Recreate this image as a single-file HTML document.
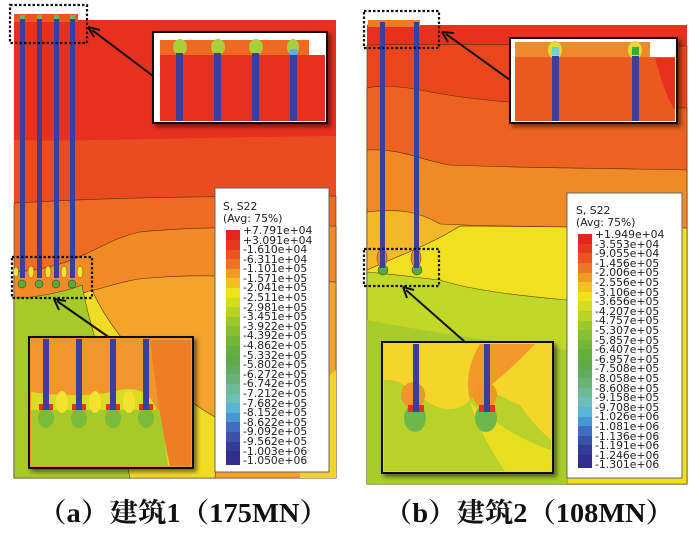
<!DOCTYPE html>
<html><head><meta charset="utf-8"><style>
html,body{margin:0;padding:0;background:#fff;}
svg{display:block;}
.lg{font-family:"DejaVu Sans","Liberation Sans",sans-serif;font-size:10.8px;fill:#222;}
.cap{font-family:"Liberation Serif","Noto Serif CJK SC",serif;font-size:27px;font-weight:bold;fill:#111;}
</style></head><body>
<svg width="700" height="534" viewBox="0 0 700 534" xmlns="http://www.w3.org/2000/svg">
<defs>
<filter id="sh" x="-5%" y="-5%" width="115%" height="115%"><feDropShadow dx="3" dy="3" stdDeviation="2" flood-color="#000" flood-opacity="0.5"/></filter>
</defs>

<!-- ============ PANEL A ============ -->
<rect x="14" y="20" width="322" height="458" fill="#e7301d"/>
<rect x="14" y="14" width="64" height="8" fill="#e9571f"/>
<path d="M14,140 C80,142 150,138 336,136 L336,478 L14,478Z" fill="#ea4c1f"/>
<path d="M14,203 C70,200 140,196 336,196 L336,478 L14,478Z" fill="#ee6b21" stroke="#5a2a10" stroke-width="0.6"/>
<path d="M14,272 C80,268 100,240 140,232 C200,226 260,228 336,226 L336,478 L14,478Z" fill="#f28a26" stroke="#5a2a10" stroke-width="0.6"/>
<path d="M14,300 C90,300 110,280 150,278 C220,272 280,280 336,282 L336,478 L14,478Z" fill="#f4a42a" stroke="#5a2a10" stroke-width="0.6"/>
<path d="M14,300 C60,300 80,295 92,290 C110,330 150,380 220,420 L215,478 L14,478Z" fill="#f0dc22" stroke="#5a2a10" stroke-width="0.6"/>
<path d="M14,298 C40,298 70,290 82,285 C90,330 110,380 130,478 L14,478Z" fill="#a8c92a" stroke="#4a4a10" stroke-width="0.6"/>
<path d="M336,370 L300,400 L300,478 L336,478Z" fill="#f3d324"/>
<!-- piles a -->
<g fill="#3a3e9e"><rect x="20" y="16" width="5" height="262"/><rect x="37" y="16" width="5" height="262"/><rect x="54" y="16" width="5" height="262"/><rect x="70" y="16" width="5" height="262"/></g>
<g fill="#f3e22c" stroke="#555" stroke-width="0.5"><ellipse cx="16" cy="272" rx="2.5" ry="5"/><ellipse cx="31" cy="272" rx="3" ry="6"/><ellipse cx="48" cy="272" rx="3" ry="6"/><ellipse cx="64" cy="272" rx="3" ry="6"/><ellipse cx="80" cy="272" rx="3" ry="6"/></g>
<g fill="#5aaa3a" stroke="#333" stroke-width="0.5"><ellipse cx="22" cy="284" rx="4" ry="4"/><ellipse cx="39" cy="284" rx="4" ry="4"/><ellipse cx="56" cy="284" rx="4" ry="4"/><ellipse cx="72" cy="284" rx="4" ry="4"/></g>
<g fill="#6fbf3a"><rect x="20" y="15" width="5" height="4"/><rect x="37" y="15" width="5" height="4"/><rect x="54" y="15" width="5" height="4"/><rect x="70" y="15" width="5" height="4"/></g>
<!-- dotted boxes a -->
<rect x="10" y="5" width="77" height="38" fill="none" stroke="#111" stroke-width="2.2" stroke-dasharray="2.5,2"/>
<rect x="12" y="257" width="80" height="41" fill="none" stroke="#111" stroke-width="2.2" stroke-dasharray="2.5,2"/>
<!-- arrows a -->
<line x1="153" y1="76" x2="92" y2="30" stroke="#111" stroke-width="2"/>
<path d="M88,27 L100,30 M88,27 L94,37" stroke="#111" stroke-width="2" fill="none"/>
<line x1="110" y1="338" x2="57" y2="301" stroke="#111" stroke-width="2"/>
<path d="M54,299 L66,301 M54,299 L59,310" stroke="#111" stroke-width="2" fill="none"/>
<!-- top inset a -->
<g filter="url(#sh)"><rect x="153" y="32" width="174" height="91" fill="#fff" stroke="#111" stroke-width="2"/></g>
<rect x="160" y="40" width="149" height="16" fill="#ee6a22"/>
<rect x="160" y="55" width="165" height="66" fill="#e7301d"/>
<g fill="#a8d03a"><ellipse cx="180" cy="47" rx="7" ry="8"/><ellipse cx="218" cy="47" rx="7" ry="8"/><ellipse cx="256" cy="47" rx="7" ry="8"/><ellipse cx="293" cy="47" rx="6" ry="8"/></g>
<g fill="#3a3e9e"><rect x="176" y="53" width="7" height="68"/><rect x="214" y="53" width="7" height="68"/><rect x="252" y="53" width="7" height="68"/><rect x="290" y="53" width="7" height="68"/></g>
<rect x="290" y="49" width="7" height="6" fill="#4ab8e0"/>
<!-- bottom inset a -->
<g filter="url(#sh)"><rect x="29" y="337" width="164" height="131" fill="#f0962a" stroke="#111" stroke-width="2"/></g>
<path d="M31,392 C50,395 90,398 120,390 C145,385 155,400 160,420 L170,466 L31,466Z" fill="#d9dc22"/>
<path d="M31,410 L160,410 L168,466 L31,466Z" fill="#a8c92a"/>
<path d="M150,340 L191,340 L191,466 L170,466 C160,420 155,380 150,340Z" fill="#ee7d24"/>
<g fill="#f3e230"><ellipse cx="62" cy="402" rx="6" ry="11"/><ellipse cx="95" cy="402" rx="6" ry="11"/><ellipse cx="129" cy="402" rx="6" ry="11"/></g>
<g fill="#7abb3a"><ellipse cx="46" cy="418" rx="8" ry="10"/><ellipse cx="79" cy="418" rx="8" ry="10"/><ellipse cx="113" cy="418" rx="8" ry="10"/><ellipse cx="146" cy="418" rx="8" ry="10"/></g>
<g fill="#e7301d"><rect x="39" y="404" width="14" height="6"/><rect x="72" y="404" width="14" height="6"/><rect x="106" y="404" width="14" height="6"/><rect x="139" y="404" width="14" height="6"/></g>
<g fill="#3a3e9e"><rect x="43" y="339" width="6" height="71"/><rect x="76" y="339" width="6" height="71"/><rect x="110" y="339" width="6" height="71"/><rect x="143" y="339" width="6" height="71"/></g>
<!-- legend a -->
<rect x="215" y="188" width="114" height="284" fill="#fff" stroke="#666" stroke-width="1"/>
<text class="lg" x="223" y="210">S, S22</text>
<text class="lg" x="223" y="222">(Avg: 75%)</text>
<g>
<rect x="226" y="230" width="14" height="10" fill="#e3261c"/><rect x="226" y="240" width="14" height="10" fill="#e6381c"/><rect x="226" y="250" width="14" height="10" fill="#eb561e"/><rect x="226" y="259" width="14" height="10" fill="#ef7420"/><rect x="226" y="269" width="14" height="10" fill="#f39a24"/><rect x="226" y="278" width="14" height="10" fill="#f5c026"/><rect x="226" y="288" width="14" height="10" fill="#f1e21e"/><rect x="226" y="298" width="14" height="10" fill="#d4dc20"/><rect x="226" y="307" width="14" height="10" fill="#b8d226"/><rect x="226" y="317" width="14" height="10" fill="#9cc82a"/><rect x="226" y="326" width="14" height="10" fill="#86c02e"/><rect x="226" y="336" width="14" height="10" fill="#72b832"/><rect x="226" y="346" width="14" height="10" fill="#64b03a"/><rect x="226" y="355" width="14" height="10" fill="#60aa48"/><rect x="226" y="365" width="14" height="10" fill="#62ac5e"/><rect x="226" y="374" width="14" height="10" fill="#68b278"/><rect x="226" y="384" width="14" height="10" fill="#6cba96"/><rect x="226" y="394" width="14" height="10" fill="#6cbeb6"/><rect x="226" y="403" width="14" height="10" fill="#5ab6d6"/><rect x="226" y="413" width="14" height="10" fill="#4896d4"/><rect x="226" y="422" width="14" height="10" fill="#3f6cc4"/><rect x="226" y="432" width="14" height="10" fill="#3a52ae"/><rect x="226" y="442" width="14" height="10" fill="#343c9a"/><rect x="226" y="451" width="14" height="14" fill="#302e88"/>
</g>
<text class="lg" x="243" y="234">+7.791e+04</text><text class="lg" x="243" y="244">+3.091e+04</text><text class="lg" x="243" y="253">-1.610e+04</text><text class="lg" x="243" y="263">-6.311e+04</text><text class="lg" x="243" y="272">-1.101e+05</text><text class="lg" x="243" y="282">-1.571e+05</text><text class="lg" x="243" y="291">-2.041e+05</text><text class="lg" x="243" y="301">-2.511e+05</text><text class="lg" x="243" y="311">-2.981e+05</text><text class="lg" x="243" y="320">-3.451e+05</text><text class="lg" x="243" y="330">-3.922e+05</text><text class="lg" x="243" y="339">-4.392e+05</text><text class="lg" x="243" y="349">-4.862e+05</text><text class="lg" x="243" y="359">-5.332e+05</text><text class="lg" x="243" y="368">-5.802e+05</text><text class="lg" x="243" y="378">-6.272e+05</text><text class="lg" x="243" y="387">-6.742e+05</text><text class="lg" x="243" y="397">-7.212e+05</text><text class="lg" x="243" y="407">-7.682e+05</text><text class="lg" x="243" y="416">-8.152e+05</text><text class="lg" x="243" y="426">-8.622e+05</text><text class="lg" x="243" y="435">-9.092e+05</text><text class="lg" x="243" y="445">-9.562e+05</text><text class="lg" x="243" y="455">-1.003e+06</text><text class="lg" x="243" y="464">-1.050e+06</text>

<!-- ============ PANEL B ============ -->
<rect x="367" y="25" width="320" height="459" fill="#e7301d"/>
<rect x="368" y="20" width="52" height="7" fill="#ee7a24"/>
<path d="M367,45 C420,44 500,44 687,46 L687,484 L367,484Z" fill="#e9461e" stroke="#5a2a10" stroke-width="0.6"/>
<path d="M367,88 C380,85 400,86 420,90 C470,100 520,106 687,108 L687,484 L367,484Z" fill="#ec6220" stroke="#5a2a10" stroke-width="0.6"/>
<path d="M367,150 C400,148 420,160 450,165 C520,168 600,168 687,170 L687,484 L367,484Z" fill="#f08a24" stroke="#5a2a10" stroke-width="0.6"/>
<path d="M367,212 C400,208 420,212 440,224 C480,226 600,228 687,228 L687,484 L367,484Z" fill="#f3b828" stroke="#5a2a10" stroke-width="0.6"/>
<path d="M367,270 C400,255 430,245 460,226 C520,226 600,228 687,228 L687,484 L367,484Z" fill="#f1e020" stroke="#5a2a10" stroke-width="0.6"/>
<path d="M367,272 C400,275 420,278 440,280 C470,290 520,296 567,300 L567,484 L367,484Z" fill="#c2d826" stroke="#4a4a10" stroke-width="0.6"/>
<path d="M367,320 C420,330 480,340 567,350 L567,484 L367,484Z" fill="#a8cc2a"/>
<!-- piles b -->
<g fill="#3a3e9e"><rect x="380" y="22" width="5" height="248"/><rect x="414" y="22" width="5" height="248"/></g>
<g fill="#e98a30" stroke="#6a2a10" stroke-width="0.5"><ellipse cx="382" cy="258" rx="5" ry="9"/><ellipse cx="416" cy="258" rx="5" ry="9"/></g>
<g fill="#5aaa3a" stroke="#333" stroke-width="0.5"><ellipse cx="383" cy="270" rx="5" ry="5"/><ellipse cx="417" cy="270" rx="5" ry="5"/></g>
<g fill="#3a3e9e"><rect x="380" y="240" width="5" height="28"/><rect x="414" y="240" width="5" height="28"/></g>
<!-- dotted boxes b -->
<rect x="364" y="11" width="75" height="37" fill="none" stroke="#111" stroke-width="2.2" stroke-dasharray="2.5,2"/>
<rect x="364" y="249" width="75" height="37" fill="none" stroke="#111" stroke-width="2.2" stroke-dasharray="2.5,2"/>
<!-- arrows b -->
<line x1="510" y1="80" x2="446" y2="34" stroke="#111" stroke-width="2"/>
<path d="M442,32 L454,33 M442,32 L448,42" stroke="#111" stroke-width="2" fill="none"/>
<line x1="465" y1="342" x2="406" y2="290" stroke="#111" stroke-width="2"/>
<path d="M403,287 L414,290 M403,287 L407,298" stroke="#111" stroke-width="2" fill="none"/>
<!-- top inset b -->
<g filter="url(#sh)"><rect x="510" y="38" width="167" height="85" fill="#fff" stroke="#111" stroke-width="2"/></g>
<rect x="515" y="42" width="135" height="16" fill="#ee8a2a"/>
<rect x="515" y="57" width="160" height="64" fill="#ea5a20"/>
<path d="M655,58 L675,58 L675,110 C665,95 660,75 655,58Z" fill="#e7301d"/>
<g fill="#e6d830"><ellipse cx="555" cy="50" rx="7" ry="9"/><ellipse cx="635" cy="50" rx="7" ry="9"/></g>
<rect x="552" y="47" width="7" height="8" fill="#6cd0e0"/><rect x="632" y="47" width="7" height="8" fill="#3aaa3a"/>
<g fill="#3a3e9e"><rect x="552" y="56" width="7" height="65"/><rect x="632" y="56" width="7" height="65"/></g>
<!-- bottom inset b -->
<g filter="url(#sh)"><rect x="382" y="342" width="171" height="131" fill="#f5d52a" stroke="#111" stroke-width="2"/></g>
<path d="M384,380 C400,378 410,390 425,400 C440,412 460,412 470,400 C480,380 495,395 520,405 C530,420 540,430 551,440 L551,471 L384,471Z" fill="#b8d22a"/>
<path d="M480,344 L535,344 C520,360 500,380 470,400 C465,380 470,360 480,344Z" fill="#f19a28"/>
<path d="M470,402 C490,420 520,440 551,450 L551,471 L505,471 C490,450 475,420 470,402Z" fill="#e6e020"/>
<g fill="#f0952a"><ellipse cx="413" cy="395" rx="12" ry="13"/><ellipse cx="485" cy="395" rx="12" ry="13"/></g>
<g fill="#6cb84a"><ellipse cx="415" cy="418" rx="11" ry="14"/><ellipse cx="486" cy="418" rx="11" ry="14"/></g>
<g fill="#e7301d"><rect x="408" y="405" width="16" height="7"/><rect x="479" y="405" width="16" height="7"/></g>
<g fill="#3a3e9e"><rect x="413" y="344" width="6" height="68"/><rect x="484" y="344" width="6" height="68"/></g>
<!-- legend b -->
<rect x="567" y="193" width="115" height="285" fill="#fff" stroke="#666" stroke-width="1"/>
<text class="lg" x="576" y="214">S, S22</text>
<text class="lg" x="576" y="226">(Avg: 75%)</text>
<g>
<rect x="578" y="234" width="14" height="10" fill="#e3261c"/><rect x="578" y="244" width="14" height="10" fill="#e6381c"/><rect x="578" y="253" width="14" height="10" fill="#eb561e"/><rect x="578" y="263" width="14" height="10" fill="#ef7420"/><rect x="578" y="273" width="14" height="10" fill="#f39a24"/><rect x="578" y="282" width="14" height="10" fill="#f5c026"/><rect x="578" y="292" width="14" height="10" fill="#f1e21e"/><rect x="578" y="301" width="14" height="10" fill="#d4dc20"/><rect x="578" y="311" width="14" height="10" fill="#b8d226"/><rect x="578" y="321" width="14" height="10" fill="#9cc82a"/><rect x="578" y="330" width="14" height="10" fill="#86c02e"/><rect x="578" y="340" width="14" height="10" fill="#72b832"/><rect x="578" y="349" width="14" height="10" fill="#64b03a"/><rect x="578" y="359" width="14" height="10" fill="#60aa48"/><rect x="578" y="369" width="14" height="10" fill="#62ac5e"/><rect x="578" y="378" width="14" height="10" fill="#68b278"/><rect x="578" y="388" width="14" height="10" fill="#6cba96"/><rect x="578" y="397" width="14" height="10" fill="#6cbeb6"/><rect x="578" y="407" width="14" height="10" fill="#5ab6d6"/><rect x="578" y="417" width="14" height="10" fill="#4896d4"/><rect x="578" y="426" width="14" height="10" fill="#3f6cc4"/><rect x="578" y="436" width="14" height="10" fill="#3a52ae"/><rect x="578" y="445" width="14" height="10" fill="#343c9a"/><rect x="578" y="455" width="14" height="13" fill="#302e88"/>
</g>
<text class="lg" x="595" y="238">+1.949e+04</text><text class="lg" x="595" y="248">-3.553e+04</text><text class="lg" x="595" y="257">-9.055e+04</text><text class="lg" x="595" y="267">-1.456e+05</text><text class="lg" x="595" y="276">-2.006e+05</text><text class="lg" x="595" y="286">-2.556e+05</text><text class="lg" x="595" y="296">-3.106e+05</text><text class="lg" x="595" y="305">-3.656e+05</text><text class="lg" x="595" y="315">-4.207e+05</text><text class="lg" x="595" y="324">-4.757e+05</text><text class="lg" x="595" y="334">-5.307e+05</text><text class="lg" x="595" y="344">-5.857e+05</text><text class="lg" x="595" y="353">-6.407e+05</text><text class="lg" x="595" y="363">-6.957e+05</text><text class="lg" x="595" y="372">-7.508e+05</text><text class="lg" x="595" y="382">-8.058e+05</text><text class="lg" x="595" y="392">-8.608e+05</text><text class="lg" x="595" y="401">-9.158e+05</text><text class="lg" x="595" y="411">-9.708e+05</text><text class="lg" x="595" y="420">-1.026e+06</text><text class="lg" x="595" y="430">-1.081e+06</text><text class="lg" x="595" y="440">-1.136e+06</text><text class="lg" x="595" y="449">-1.191e+06</text><text class="lg" x="595" y="459">-1.246e+06</text><text class="lg" x="595" y="468">-1.301e+06</text>

<!-- captions -->
<text class="cap" x="38" y="522" textLength="290" lengthAdjust="spacingAndGlyphs">（a）建筑1（175MN）</text>
<text class="cap" x="384" y="522" textLength="290" lengthAdjust="spacingAndGlyphs">（b）建筑2（108MN）</text>
</svg>
</body></html>
